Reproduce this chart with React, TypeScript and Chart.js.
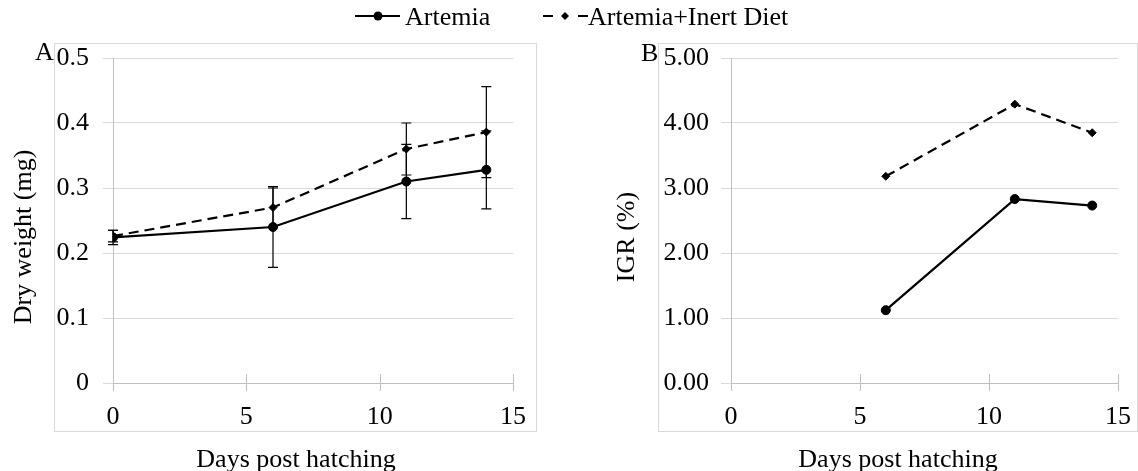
import React, { useEffect, useRef } from "react";
import { Chart, registerables } from "chart.js";

Chart.register(...registerables);

// Sampling days (days post hatching)
const days = [0, 6, 11, 14];
// Panel A: dry weight (mg), mean and SD
const dryWeightArtemia = [0.224, 0.24, 0.31, 0.328];
const dryWeightArtemiaSd = [0.011, 0.062, 0.057, 0.06];
const dryWeightInert = [0.226, 0.27, 0.36, 0.386];
const dryWeightInertSd = [0.009, 0.03, 0.04, 0.07];

// Panel B: instantaneous growth rate (%)
const igrDays = [6, 11, 14];
const igrArtemia = [1.12, 2.83, 2.73];
const igrInert = [3.18, 4.29, 3.85];

const xTickValues = [0, 5, 10, 15];
const seriesNames = ["Artemia", "Artemia+Inert Diet"];
const xTitle = "Days post hatching";
const yTitleA = "Dry weight (mg)";
const yTitleB = "IGR (%)";

const W = 1138;
const H = 471;
const FONT_FAMILY = '"Liberation Serif", "Times New Roman", serif';
const FONT_SIZE = 26;
const GRID = "#d9d9d9";
const AXIS = "#bfbfbf";
const DASH = [10, 6];

const toPoints = (xs: number[], ys: number[]) => xs.map((x, i) => ({ x, y: ys[i] }));

// Vertical error bars with caps, drawn under the line markers
const errorBarPlugin = {
  id: "errorBars",
  beforeDatasetsDraw(chart: any) {
    const { ctx, scales } = chart;
    const x = scales.x;
    const y = scales.y;
    chart.data.datasets.forEach((ds: any) => {
      if (!ds.errorBars) return;
      ctx.save();
      ctx.strokeStyle = "#000";
      ctx.lineWidth = 1.2;
      ds.data.forEach((p: any, i: number) => {
        const e = ds.errorBars[i];
        const px = x.getPixelForValue(p.x);
        const top = y.getPixelForValue(p.y + e);
        const bot = y.getPixelForValue(p.y - e);
        ctx.beginPath();
        ctx.moveTo(px, top);
        ctx.lineTo(px, bot);
        ctx.moveTo(px - 5, top);
        ctx.lineTo(px + 5, top);
        ctx.moveTo(px - 5, bot);
        ctx.lineTo(px + 5, bot);
        ctx.stroke();
      });
      ctx.restore();
    });
  },
};

// Cross tick marks on the horizontal axis
const crossTickPlugin = {
  id: "crossTicks",
  afterDraw(chart: any) {
    const { ctx } = chart;
    const x = chart.scales.x;
    const yb = chart.chartArea.bottom;
    ctx.save();
    ctx.strokeStyle = AXIS;
    ctx.lineWidth = 1;
    x.ticks.forEach((t: any) => {
      const px = Math.round(x.getPixelForValue(t.value)) + 0.5;
      ctx.beginPath();
      ctx.moveTo(px, yb - 9);
      ctx.lineTo(px, yb + 8);
      ctx.stroke();
    });
    ctx.restore();
  },
};

// Panel frame, panel letter, axis titles and (optionally) the shared legend
const decorPlugin = {
  id: "decor",
  afterDraw(chart: any, _args: any, opts: any) {
    const { ctx } = chart;
    ctx.save();
    ctx.strokeStyle = GRID;
    ctx.lineWidth = 1;
    const [bx, by, bw, bh] = opts.box;
    ctx.strokeRect(bx + 0.5, by + 0.5, bw, bh);

    ctx.fillStyle = "#000";
    ctx.font = `${FONT_SIZE}px ${FONT_FAMILY}`;
    ctx.textBaseline = "alphabetic";
    ctx.textAlign = "left";
    ctx.fillText(opts.letter, opts.letterPos[0], opts.letterPos[1]);

    ctx.textAlign = "center";
    ctx.fillText(opts.xTitle, opts.xTitlePos[0], opts.xTitlePos[1]);

    ctx.save();
    ctx.translate(opts.yTitlePos[0], opts.yTitlePos[1]);
    ctx.rotate(-Math.PI / 2);
    ctx.fillText(opts.yTitle, 0, 0);
    ctx.restore();

    if (opts.legend) {
      const ly = 16;
      ctx.strokeStyle = "#000";
      ctx.fillStyle = "#000";
      ctx.lineWidth = 2.2;
      // solid series sample
      ctx.beginPath();
      ctx.moveTo(355, ly);
      ctx.lineTo(400, ly);
      ctx.stroke();
      ctx.beginPath();
      ctx.arc(378, ly, 4.5, 0, Math.PI * 2);
      ctx.fill();
      ctx.textAlign = "left";
      ctx.fillText(seriesNames[0], 405, 25);
      // dashed series sample
      ctx.beginPath();
      ctx.moveTo(543, ly);
      ctx.lineTo(553, ly);
      ctx.moveTo(578, ly);
      ctx.lineTo(588, ly);
      ctx.stroke();
      ctx.beginPath();
      ctx.moveTo(565, ly - 4);
      ctx.lineTo(569, ly);
      ctx.lineTo(565, ly + 4);
      ctx.lineTo(561, ly);
      ctx.closePath();
      ctx.fill();
      ctx.fillText(seriesNames[1], 588, 25);
    }
    ctx.restore();
  },
};

const tickFont = { family: FONT_FAMILY, size: FONT_SIZE };

function makeConfig(opts: {
  solid: { x: number; y: number }[];
  dashed: { x: number; y: number }[];
  solidErr?: number[];
  dashedErr?: number[];
  yMax: number;
  yStep: number;
  yDecimals: number;
  padding: { left: number; right: number; top: number; bottom: number };
  yWidth: number;
  yPad: number;
  decor: any;
}): any {
  return {
    type: "line",
    data: {
      datasets: [
        {
          label: seriesNames[0],
          data: opts.solid,
          errorBars: opts.solidErr,
          borderColor: "#000",
          backgroundColor: "#000",
          borderWidth: 2.2,
          pointStyle: "circle",
          pointRadius: 4.5,
          pointBorderWidth: 1,
          pointBackgroundColor: "#000",
          pointBorderColor: "#000",
          tension: 0,
        },
        {
          label: seriesNames[1],
          data: opts.dashed,
          errorBars: opts.dashedErr,
          borderColor: "#000",
          backgroundColor: "#000",
          borderWidth: 2.2,
          borderDash: DASH,
          pointStyle: "rectRot",
          pointRadius: 4,
          pointBorderWidth: 1,
          pointBackgroundColor: "#000",
          pointBorderColor: "#000",
          tension: 0,
        },
      ],
    },
    options: {
      responsive: false,
      animation: false,
      events: [],
      layout: { padding: opts.padding },
      plugins: {
        legend: { display: false },
        tooltip: { enabled: false },
        decor: opts.decor,
      },
      scales: {
        x: {
          type: "linear",
          min: 0,
          max: 15,
          afterFit: (s: any) => {
            s.height = H - 383;
            s.paddingLeft = 0;
            s.paddingRight = 0;
          },
          afterBuildTicks: (s: any) => {
            s.ticks = xTickValues.map((v) => ({ value: v }));
          },
          ticks: {
            font: tickFont,
            color: "#000",
            padding: 19,
            maxRotation: 0,
          },
          grid: { display: false, drawTicks: false },
          border: { display: true, color: AXIS, width: 1 },
        },
        y: {
          min: 0,
          max: opts.yMax,
          afterFit: (s: any) => {
            s.width = opts.yWidth;
            s.paddingTop = 0;
            s.paddingBottom = 0;
          },
          ticks: {
            stepSize: opts.yStep,
            font: tickFont,
            color: "#000",
            padding: opts.yPad,
            callback: (v: number) =>
              opts.yDecimals === 0 ? String(+v.toFixed(1)) : v.toFixed(opts.yDecimals),
          },
          grid: { color: GRID, lineWidth: 1, tickLength: 10, tickColor: GRID, drawTicks: true },
          border: { display: true, color: AXIS, width: 1 },
        },
      },
    },
    plugins: [errorBarPlugin, crossTickPlugin, decorPlugin],
  };
}

export default function App() {
  const refA = useRef<HTMLCanvasElement | null>(null);
  const refB = useRef<HTMLCanvasElement | null>(null);

  useEffect(() => {
    const chartA = new Chart(
      refA.current as HTMLCanvasElement,
      makeConfig({
        solid: toPoints(days, dryWeightArtemia),
        dashed: toPoints(days, dryWeightInert),
        solidErr: dryWeightArtemiaSd,
        dashedErr: dryWeightInertSd,
        yMax: 0.5,
        yStep: 0.1,
        yDecimals: 0,
        padding: { left: 0, right: W - 513, top: 58, bottom: 0 },
        yWidth: 113,
        yPad: 14,
        decor: {
          box: [54, 43, 482, 388],
          letter: "A",
          letterPos: [35, 60],
          xTitle,
          xTitlePos: [296, 467],
          yTitle: yTitleA,
          yTitlePos: [31, 237],
          legend: true,
        },
      })
    );
    const chartB = new Chart(
      refB.current as HTMLCanvasElement,
      makeConfig({
        solid: toPoints(igrDays, igrArtemia),
        dashed: toPoints(igrDays, igrInert),
        yMax: 5,
        yStep: 1,
        yDecimals: 2,
        padding: { left: 600, right: W - 1118, top: 58, bottom: 0 },
        yWidth: 131,
        yPad: 12,
        decor: {
          box: [658, 43, 479, 388],
          letter: "B",
          letterPos: [641, 61],
          xTitle,
          xTitlePos: [898, 467],
          yTitle: yTitleB,
          yTitlePos: [634, 237],
          legend: false,
        },
      })
    );
    return () => {
      chartA.destroy();
      chartB.destroy();
    };
  }, []);

  return (
    <div style={{ position: "absolute", left: 0, top: 0, width: W, height: H, background: "#fff" }}>
      <canvas ref={refA} width={W} height={H} style={{ position: "absolute", left: 0, top: 0 }} />
      <canvas ref={refB} width={W} height={H} style={{ position: "absolute", left: 0, top: 0 }} />
    </div>
  );
}
